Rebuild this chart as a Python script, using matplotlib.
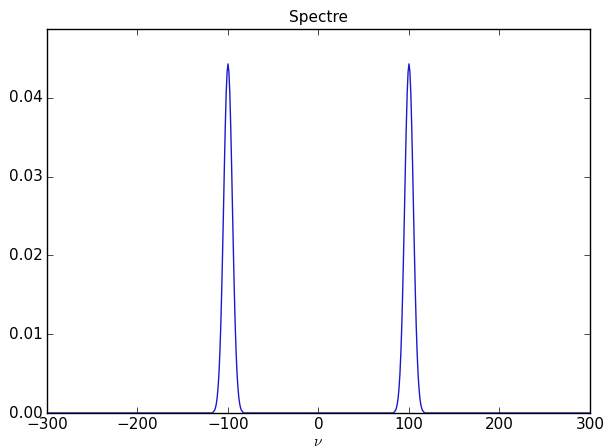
import numpy as np
import matplotlib
matplotlib.use("Agg")
import matplotlib.pyplot as plt

plt.style.use('classic')

# pics du spectre (centres et forme)
centres = [-100, 100]
decalage = list(range(-17, 18))
profil_demi = [0.0443, 0.0433, 0.0406, 0.0364, 0.0313, 0.0257, 0.0203, 0.0153,
               0.0110, 0.0076, 0.0050, 0.0032, 0.0019, 0.0011, 0.0006, 0.0003,
               0.0002, 0.0000]
profil = profil_demi[:0:-1] + profil_demi

nu = [-300.0]
spectre = [0.0]
for c in centres:
    nu += [c + d for d in decalage]
    spectre += profil
nu.append(300.0)
spectre.append(0.0)

fig = plt.figure(figsize=(6.12, 4.48), dpi=100, facecolor='white')
ax = fig.add_axes([47 / 612, 35 / 448, 543 / 612, 384 / 448])
ax.plot(nu, spectre, color='#1a1acc', lw=1.0)

ax.set_xlim(-300, 300)
ax.set_ylim(0, max(spectre) * 1.1)
ax.set_xticks([-300, -200, -100, 0, 100, 200, 300])
ax.set_yticks([0.0, 0.01, 0.02, 0.03, 0.04])
ax.set_yticklabels(['0.00', '0.01', '0.02', '0.03', '0.04'])
ax.tick_params(labelsize=11, pad=3)
ax.set_title('Spectre', fontsize=11)
ax.set_xlabel(r'$\nu$', fontsize=11, labelpad=1)

fig.savefig('out.png', dpi=100, facecolor='white')
